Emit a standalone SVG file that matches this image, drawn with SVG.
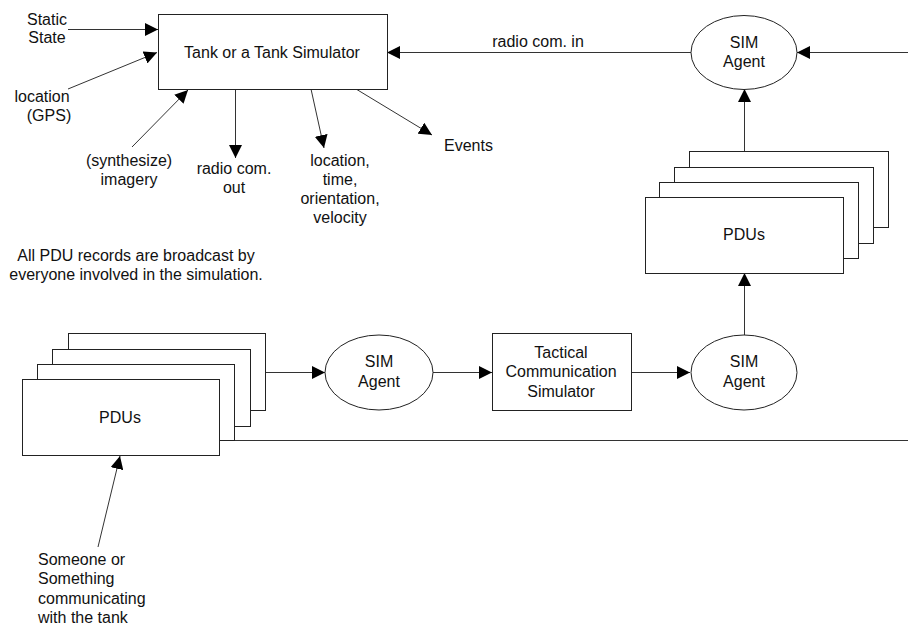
<svg xmlns="http://www.w3.org/2000/svg" width="908" height="631" viewBox="0 0 908 631">
  <style>
    text { font-family: "Liberation Sans", Arial, sans-serif; font-size: 16px; fill: #111; }
    .c { text-anchor: middle; }
    .box { fill: #fff; stroke: #222; stroke-width: 1; }
    .line { fill: none; stroke: #333; stroke-width: 1; }
  </style>
  <defs>
    <marker id="arrow" viewBox="0 0 13 13" refX="13" refY="6.5" markerWidth="13" markerHeight="13" markerUnits="userSpaceOnUse" orient="auto">
      <path d="M0,0 L13,6.5 L0,13 Z" fill="#000"/>
    </marker>
  </defs>

  <rect width="908" height="631" fill="#fff"/>

  <!-- connectors -->
  <g id="connectors">
    <line class="line" x1="68" y1="29.5" x2="158" y2="29.5" marker-end="url(#arrow)"/>
    <line class="line" x1="68" y1="89" x2="157" y2="52.5" marker-end="url(#arrow)"/>
    <line class="line" x1="132" y1="147" x2="188" y2="90" marker-end="url(#arrow)"/>
    <line class="line" x1="235.5" y1="89" x2="235.5" y2="158" marker-end="url(#arrow)"/>
    <line class="line" x1="311" y1="89" x2="324" y2="148" marker-end="url(#arrow)"/>
    <line class="line" x1="356" y1="89" x2="432" y2="135" marker-end="url(#arrow)"/>
    <line class="line" x1="691" y1="52.5" x2="387" y2="52.5" marker-end="url(#arrow)"/>
    <line class="line" x1="908" y1="52.5" x2="797" y2="52.5" marker-end="url(#arrow)"/>
    <line class="line" x1="744.5" y1="151" x2="744.5" y2="89" marker-end="url(#arrow)"/>
    <line class="line" x1="744.5" y1="335" x2="744.5" y2="273" marker-end="url(#arrow)"/>
    <line class="line" x1="265" y1="372.5" x2="325" y2="372.5" marker-end="url(#arrow)"/>
    <line class="line" x1="433" y1="372.5" x2="492" y2="372.5" marker-end="url(#arrow)"/>
    <line class="line" x1="631" y1="372.5" x2="690" y2="372.5" marker-end="url(#arrow)"/>
    <line class="line" x1="234" y1="440.5" x2="908" y2="440.5"/>
    <line class="line" x1="98" y1="547" x2="120" y2="456" marker-end="url(#arrow)"/>
  </g>

  <!-- free-standing labels -->
  <g id="labels">
    <text class="c" x="47" y="25">Static</text>
    <text class="c" x="47" y="43">State</text>
    <text class="c" x="42" y="102">location</text>
    <text class="c" x="49" y="121">(GPS)</text>
    <text class="c" x="129" y="166">(synthesize)</text>
    <text class="c" x="129" y="185">imagery</text>
    <text class="c" x="234" y="174">radio com.</text>
    <text class="c" x="234" y="193">out</text>
    <text class="c" x="340" y="166">location,</text>
    <text class="c" x="340" y="185">time,</text>
    <text class="c" x="340" y="204">orientation,</text>
    <text class="c" x="340" y="223">velocity</text>
    <text x="444" y="151">Events</text>
    <text class="c" x="538" y="47">radio com. in</text>
    <text class="c" x="136" y="261">All PDU records are broadcast by</text>
    <text class="c" x="136" y="280">everyone involved in the simulation.</text>
    <text x="38" y="565">Someone or</text>
    <text x="38" y="584">Something</text>
    <text x="38" y="604">communicating</text>
    <text x="38" y="623">with the tank</text>
  </g>

  <!-- nodes -->
  <g id="tank">
    <rect class="box" x="158.5" y="14.5" width="229" height="75"/>
    <text class="c" x="272" y="58">Tank or a Tank Simulator</text>
  </g>

  <g id="sim-agent-top">
    <ellipse class="box" cx="744" cy="52.5" rx="53" ry="37"/>
    <text class="c" x="744" y="48">SIM</text>
    <text class="c" x="744" y="67">Agent</text>
  </g>

  <g id="pdus-top">
    <rect class="box" x="689.5" y="151.5" width="199" height="76"/>
    <rect class="box" x="674.5" y="167.5" width="199" height="76"/>
    <rect class="box" x="659.5" y="182.5" width="199" height="76"/>
    <rect class="box" x="645.5" y="197.5" width="198" height="76"/>
    <text class="c" x="744" y="240">PDUs</text>
  </g>

  <g id="pdus-bottom">
    <rect class="box" x="68.5" y="333.5" width="197" height="77"/>
    <rect class="box" x="52.5" y="349.5" width="198" height="77"/>
    <rect class="box" x="37.5" y="364.5" width="197" height="76"/>
    <rect class="box" x="22.5" y="379.5" width="197" height="76"/>
    <text class="c" x="120" y="423">PDUs</text>
  </g>

  <g id="sim-agent-left">
    <ellipse class="box" cx="379" cy="372.5" rx="54" ry="37.5"/>
    <text class="c" x="379" y="367">SIM</text>
    <text class="c" x="379" y="387">Agent</text>
  </g>

  <g id="tactical-sim">
    <rect class="box" x="492.5" y="333.5" width="139" height="77"/>
    <text class="c" x="561" y="358">Tactical</text>
    <text class="c" x="561" y="377">Communication</text>
    <text class="c" x="561" y="397">Simulator</text>
  </g>

  <g id="sim-agent-right">
    <ellipse class="box" cx="744" cy="372.5" rx="53" ry="37.5"/>
    <text class="c" x="744" y="367">SIM</text>
    <text class="c" x="744" y="387">Agent</text>
  </g>
</svg>
